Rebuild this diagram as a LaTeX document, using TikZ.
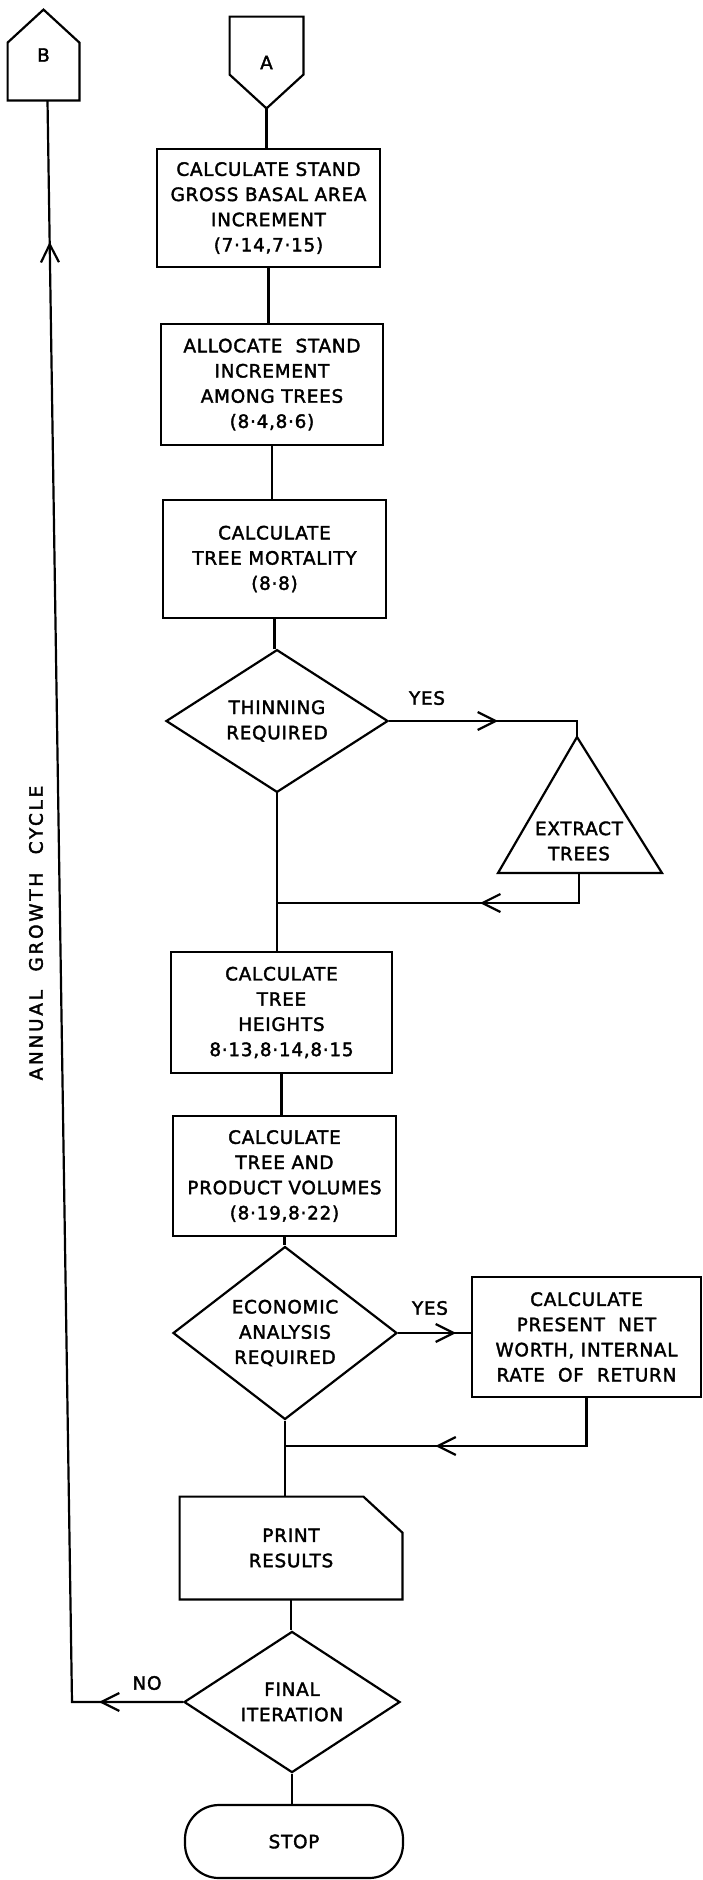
\documentclass[tikz,border=0pt]{standalone}
\usepackage{fontspec}
\setmainfont{DejaVu Sans}
\newfontfamily\lab{DejaVu Sans}[LetterSpace=4,FakeBold=2]
\newfontfamily\cyclefont{DejaVu Sans}[LetterSpace=15,FakeBold=2]
\usetikzlibrary{arrows.meta,decorations.markings,calc,shapes.geometric}
\begin{document}
\begin{tikzpicture}[x=0.5pt,y=-0.5pt,
  >={Straight Barb[length=9pt,width=9pt]},
  lw/.style={line width=1.1pt},
  txt/.style={font=\lab\fontsize{9.2}{12.6}\selectfont, align=center, inner sep=0pt},
  procbox/.style={txt, draw, lw, rectangle},
  decision/.style={txt, draw, lw, diamond},
  ghost/.style={txt},
  conn/.style={lw},
  arrowat/.style={postaction={decorate, decoration={markings, mark=at position #1 with {\arrow{>}}}}}
]
\useasboundingbox (0,0) rectangle (702,1880);

% connectors B and A
\node[ghost, minimum width=35.5pt, minimum height=45pt] (B) at (43.5,55) {B};
\draw[lw] (B.south west) -- ($(B.north west)+(0,33)$) -- (B.north) -- ($(B.north east)+(0,33)$) -- (B.south east) -- cycle;

\node[ghost, minimum width=36.5pt, minimum height=45.5pt] (A) at (266.5,62.5) {A};
\draw[lw] (A.north west) -- (A.north east) -- ($(A.north east)+(0,58)$) -- (A.south) -- ($(A.north west)+(0,58)$) -- cycle;

% process boxes
\node[procbox, minimum width=111.5pt, minimum height=59pt] (b1) at (268.5,208) {CALCULATE STAND\\GROSS BASAL AREA\\INCREMENT\\(7·14,7·15)};
\node[procbox, minimum width=111pt, minimum height=60.5pt] (b2) at (272,384.5) {ALLOCATE\ \ STAND\\INCREMENT\\AMONG TREES\\(8·4,8·6)};
\node[procbox, minimum width=111.5pt, minimum height=59pt] (b3) at (274.5,559) {CALCULATE\\TREE MORTALITY\\(8·8)};
\node[decision, minimum width=111pt, minimum height=67pt] (d1) at (277,721) {THINNING\\REQUIRED};

% extract trees triangle
\coordinate (triA) at (577,737);
\coordinate (triL) at (498,873);
\coordinate (triR) at (662,873);
\coordinate (triB) at (579,873);
\draw[lw] (triA) -- (triL) -- (triR) -- cycle;
\node[txt] (tri) at (579,841) {EXTRACT\\TREES};

\node[procbox, minimum width=110.5pt, minimum height=60.5pt] (b4) at (281.5,1012.5) {CALCULATE\\TREE\\HEIGHTS\\8·13,8·14,8·15};
\node[procbox, minimum width=111.5pt, minimum height=60pt] (b5) at (284.5,1176) {CALCULATE\\TREE AND\\PRODUCT VOLUMES\\(8·19,8·22)};
\node[decision, minimum width=112pt, minimum height=70pt] (d2) at (285,1333) {ECONOMIC\\ANALYSIS\\REQUIRED};
\node[procbox, minimum width=114.5pt, minimum height=60pt] (econ) at (586.5,1337) {CALCULATE\\PRESENT\ \ NET\\WORTH,\ INTERNAL\\RATE\ \ OF\ \ RETURN};

% print results (document shape with cut corner)
\node[ghost, minimum width=111pt, minimum height=51pt] (pr) at (291,1548) {PRINT\\RESULTS};
\draw[lw] (pr.south west) -- (pr.north west) -- ([xshift=-19.5pt]pr.north east) -- ([yshift=-18pt]pr.north east) -- (pr.south east) -- cycle;

\node[decision, minimum width=108pt, minimum height=67.5pt] (d3) at (292,1702) {FINAL\\ITERATION};
\node[txt, draw, lw, rounded corners=17pt, minimum width=109pt, minimum height=36.5pt] (stop) at (294,1841.5) {STOP};

% labels
\node[txt] (yes1) at (427,698) {YES};
\node[txt] (yes2) at (430,1308) {YES};
\node[txt] (no) at (147,1683) {NO};
\node[txt, font={\cyclefont\fontsize{9.2}{12}\selectfont}, rotate=90] (cyc) at (36,933) {ANNUAL\hspace{5pt} GROWTH\hspace{5pt} CYCLE};

% helper coordinates
\coordinate (m1) at (277,903);
\coordinate (m2) at (285,1446);
\coordinate (loop) at (72,1702);

% main flow
\draw[conn] (A.south) -- (A.south |- b1.north);
\draw[conn] (b1.south) -- (b1.south |- b2.north);
\draw[conn] (b2.south) -- (b2.south |- b3.north);
\draw[conn] (b3.south) -- (b3.south |- d1.north);
\draw[conn] (d1.south) -- (d1.south |- b4.north);
\draw[conn] (b4.south) -- (b4.south |- b5.north);
\draw[conn] (b5.south) -- (b5.south |- d2.north);
\draw[conn] (d2.south) -- (d2.south |- pr.north);
\draw[conn] (pr.south) -- (pr.south |- d3.north);
\draw[conn] (d3.south) -- (d3.south |- stop.north);

% thinning branch
\draw[conn, arrowat=54.5pt] (d1.east) -- (d1.east -| triA) -- (triA);
\draw[conn, arrowat=64.5pt] (triB) -- (triB |- m1) -- (m1);

% economic branch
\draw[conn, arrowat=29pt] (d2.east) -- (d2.east -| econ.west);
\draw[conn, arrowat=99.5pt] (econ.south) -- (econ.south |- m2) -- (m2);

% loop back
\draw[conn, arrowat=42pt, arrowat=785.6pt] (d3.west) -- (loop) -- ([xshift=2pt]B.south);
\end{tikzpicture}
\end{document}
